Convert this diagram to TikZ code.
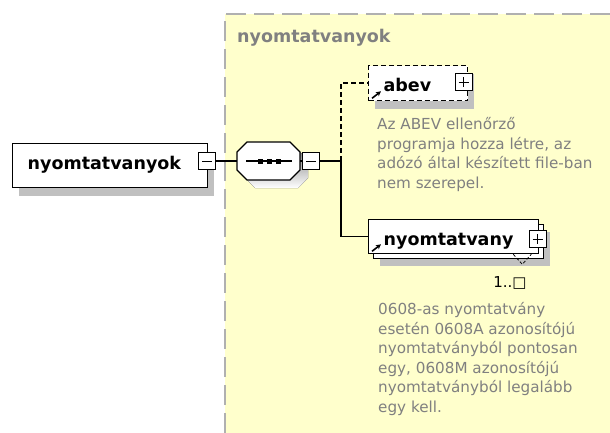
\documentclass[tikz,border=0pt]{standalone}
\usepackage{fontspec}
\setmainfont{DejaVu Sans}
\usetikzlibrary{shadows,arrows.meta}
\definecolor{notebg}{RGB}{255,255,204}
\definecolor{notegray}{RGB}{128,128,128}
\definecolor{shade}{RGB}{192,192,192}
\definecolor{frame}{RGB}{176,176,176}

\begin{document}
\begin{tikzpicture}
  [x=1pt,y=-1pt,
   box/.style={draw,fill=white,line width=1.3pt,font=\fontsize{17.5}{20}\selectfont\bfseries,
     inner xsep=15pt,inner ysep=0pt,text height=26pt,align=left,anchor=north west},
   elem/.style={box,general shadow={fill=shade,shadow xshift=6pt,shadow yshift=-8pt}},
   elemmany/.style={box,general shadow={fill=shade,shadow xshift=11pt,shadow yshift=-12pt},
     copy shadow={shadow xshift=5pt,shadow yshift=-5pt}},
   minus/.style={draw,fill=white,line width=1pt,minimum size=17pt,inner sep=0pt,
     path picture={\draw[line width=1pt] ([xshift=3.5pt]path picture bounding box.west) -- ([xshift=-3.5pt]path picture bounding box.east);}},
   plus/.style={draw,fill=white,line width=1pt,minimum size=17pt,inner sep=0pt,
     path picture={\draw[line width=1pt] ([xshift=3.5pt]path picture bounding box.west) -- ([xshift=-3.5pt]path picture bounding box.east);
       \draw[line width=1pt] ([yshift=-3.5pt]path picture bounding box.north) -- ([yshift=3.5pt]path picture bounding box.south);}},
   note/.style={font=\fontsize{15.2}{19.5}\selectfont,text=notegray,align=left,inner sep=0pt,anchor=base west},
   link/.style={line width=1.3pt}]

  \useasboundingbox (0,0) rectangle (610,433);

  % group area
  \fill[notebg] (225,14) rectangle (610,433);
  \draw[frame,line width=2pt,dash pattern=on 20pt off 8pt] (225,433) -- (225,14) -- (610,14);
  \node[anchor=base west,inner sep=0pt,text=notegray,font=\fontsize{17.5}{20}\selectfont\bfseries] (grp) at (237,43) {nyomtatvanyok};

  \node[elem,text width=165pt,text depth=18pt] (root) at (12,143) {nyomtatvanyok};
  \node[minus] (rootm) at (207,161) {};

  % sequence
  \node[minimum width=63pt,minimum height=38pt,inner sep=0pt] (seq) at (268.5,161) {};
  \fill[shade,shift={(8,8)}] (247,142) -- (290,142) -- (300,152) -- (300,170) -- (290,180) -- (247,180) -- (237,170) -- (237,152) -- cycle;
  \draw[fill=white,line width=1.3pt] (247,142) -- (290,142) -- (300,152) -- (300,170) -- (290,180) -- (247,180) -- (237,170) -- (237,152) -- cycle;
  \draw[line width=1.3pt] ([xshift=-22.5pt]seq.center) -- ([xshift=23.5pt]seq.center);
  \foreach \dx in {-8.5,0.5,9.5}
    \fill ([xshift=\dx pt]seq.center) +(-2.5,-2.5) rectangle +(2.5,2.5);
  \node[minus] (seqm) at (311,161) {};
  \coordinate (fork) at (341,161);

  \node[elem,dash pattern=on 5pt off 3pt,text width=69pt,text depth=9pt] (abev) at (368,65) {abev};
  \node[plus] (abevp) at (463.5,82.5) {};

  \node[elemmany,text width=140pt,text depth=8pt] (nyom) at (368,219) {nyomtatvany};
  \node[plus] (nyomp) at (537.5,239) {};

  \foreach \from/\to in {rootm/seq, seq/seqm, seqm/fork}
    \draw[link] (\from) -- (\to);
  \draw[link,dash pattern=on 5pt off 3pt] (fork) |- (abev);
  \draw[link] (fork) |- (nyom);

  \foreach \n in {abev,nyom}
    \draw[line width=1.6pt,-{Stealth[length=5pt,width=5pt]}] ([xshift=4pt,yshift=3pt]\n.south west) -- ++(9,-7);

  \draw[densely dashed,line width=0.8pt] ([xshift=-26pt]nyom.south east) -- ++(9,10) -- ++(9,-10);
  \node[anchor=base,inner sep=0pt,font=\fontsize{15}{18}\selectfont] (card) at (510,287) {1..□};

  \node[note] (abevnote) at (377,188) {Az ABEV ellenőrző\\programja hozza létre, az\\adózó által készített file-ban\\nem szerepel.};
  \node[note] (nyomnote) at (378,412) {0608-as nyomtatvány\\esetén 0608A azonosítójú\\nyomtatványból pontosan\\egy, 0608M azonosítójú\\nyomtatványból legalább\\egy kell.};

\end{tikzpicture}
\end{document}
